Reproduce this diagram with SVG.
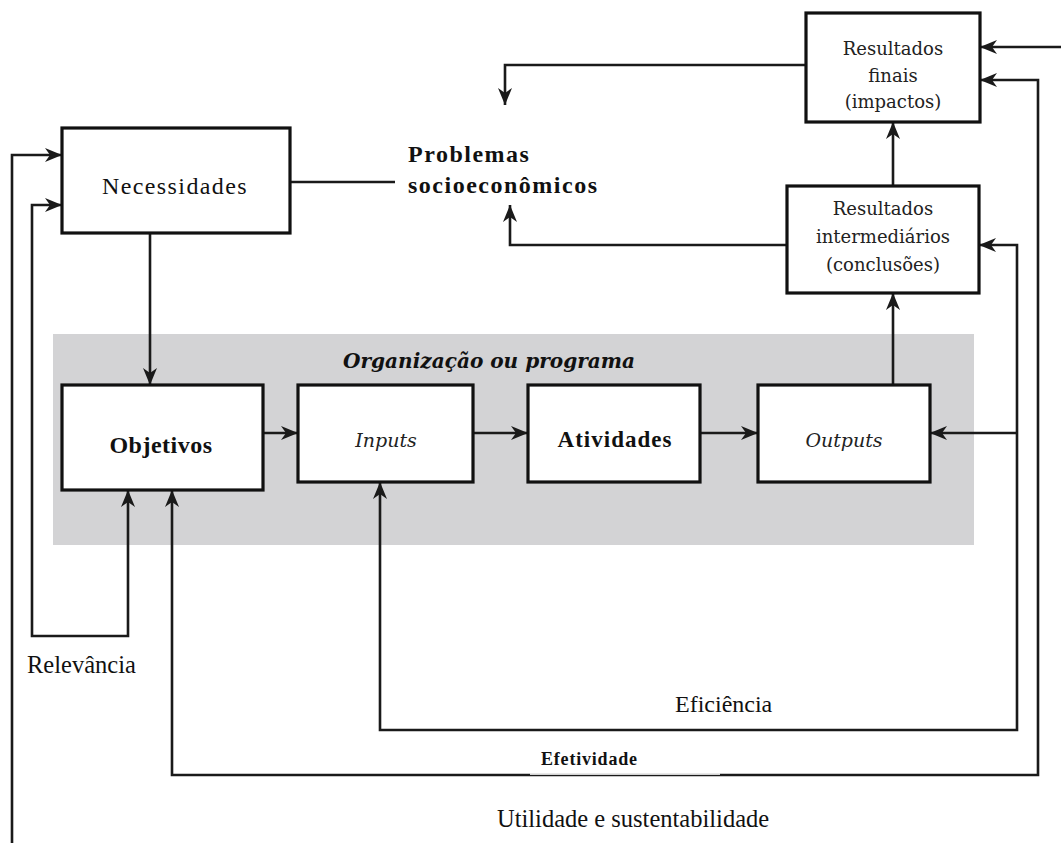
<svg xmlns="http://www.w3.org/2000/svg" width="1061" height="843" viewBox="0 0 1061 843">
<defs>
<marker id="ah" markerUnits="userSpaceOnUse" markerWidth="18" markerHeight="14" refX="17" refY="7" orient="auto-start-reverse">
<path d="M0,0 L17,7 L0,14 L5,7 Z" fill="#1a1a1a"/>
</marker>
<style>
.box{fill:#fff;stroke:#111;stroke-width:3.2}
.ln{fill:none;stroke:#1a1a1a;stroke-width:2.6}
.t{font-family:"Liberation Serif","DejaVu Serif",serif;fill:#111;text-anchor:middle}
.w{font-family:"DejaVu Serif","Liberation Serif",serif;fill:#222;text-anchor:middle}
.lb{font-family:"Liberation Serif","DejaVu Serif",serif;fill:#111}
</style>
</defs>
<rect width="1061" height="843" fill="#fff"/>
<rect id="org-bg" x="53" y="334" width="921" height="211" fill="#d3d3d5"/>
<text x="343" y="368" font-family="DejaVu Serif, Liberation Serif, serif" font-size="21" font-weight="bold" font-style="italic" fill="#111" textLength="292" lengthAdjust="spacingAndGlyphs">Organização ou programa</text>

<g id="connectors">
<path class="ln" d="M1061,47 L980,47" marker-end="url(#ah)"/>
<path class="ln" d="M980,80 L1038,80 L1038,775 L172,775 L172,490" marker-start="url(#ah)" marker-end="url(#ah)"/>
<path class="ln" d="M979,245 L1017,245 L1017,730 L380,730 L380,482" marker-start="url(#ah)" marker-end="url(#ah)"/>
<path class="ln" d="M1017,433 L930,433" marker-end="url(#ah)"/>
<path class="ln" d="M12,843 L12,155 L62,155" marker-end="url(#ah)"/>
<path class="ln" d="M62,205 L32,205 L32,636 L128,636 L128,490" marker-start="url(#ah)" marker-end="url(#ah)"/>
<path class="ln" d="M150,233 L150,385" marker-end="url(#ah)"/>
<path class="ln" d="M290,182 L395,182"/>
<path class="ln" d="M806,65 L505,65 L505,105" marker-end="url(#ah)"/>
<path class="ln" d="M787,245 L510,245 L510,205" marker-end="url(#ah)"/>
<path class="ln" d="M893,186 L893,122" marker-end="url(#ah)"/>
<path class="ln" d="M893,385 L893,293" marker-end="url(#ah)"/>
<path class="ln" d="M263,433 L298,433" marker-end="url(#ah)"/>
<path class="ln" d="M473,433 L528,433" marker-end="url(#ah)"/>
<path class="ln" d="M700,433 L758,433" marker-end="url(#ah)"/>
<rect x="530" y="773.4" width="190" height="1.4" fill="#fff"/>
</g>

<g id="necessidades">
<rect class="box" x="62" y="128" width="228" height="105"/>
<text class="t" x="175" y="194" font-size="24" letter-spacing="1.4">Necessidades</text>
</g>
<g id="problemas">
<text class="lb" x="408" y="162" font-size="24" font-weight="bold" letter-spacing="1.5">Problemas</text>
<text class="lb" x="408" y="193" font-size="24" font-weight="bold" letter-spacing="1.5">socioeconômicos</text>
</g>
<g id="resultados-finais">
<rect class="box" x="806" y="13" width="174" height="109"/>
<text class="w" x="893" y="55" font-size="18">Resultados</text>
<text class="w" x="893" y="82" font-size="18">finais</text>
<text class="w" x="893" y="108" font-size="18">(impactos)</text>
</g>
<g id="resultados-intermediarios">
<rect class="box" x="787" y="186" width="192" height="107"/>
<text class="w" x="883" y="215" font-size="18">Resultados</text>
<text class="w" x="883" y="243" font-size="18">intermediários</text>
<text class="w" x="883" y="271" font-size="18">(conclusões)</text>
</g>
<g id="objetivos">
<rect class="box" x="62" y="385" width="201" height="105"/>
<text class="t" x="161" y="453" font-size="24" font-weight="bold" letter-spacing="0.5">Objetivos</text>
</g>
<g id="inputs">
<rect class="box" x="298" y="385" width="175" height="97"/>
<text class="w" x="386" y="447" font-size="19" font-style="italic">Inputs</text>
</g>
<g id="atividades">
<rect class="box" x="528" y="385" width="172" height="97"/>
<text class="t" x="615" y="447" font-size="23" font-weight="bold" letter-spacing="1">Atividades</text>
</g>
<g id="outputs">
<rect class="box" x="758" y="385" width="172" height="97"/>
<text class="w" x="844" y="447" font-size="19" font-style="italic">Outputs</text>
</g>

<g id="labels">
<text class="lb" x="27" y="673" font-size="24.5">Relevância</text>
<text class="lb" x="675" y="712" font-size="24">Eficiência</text>
<text class="lb" x="541" y="765" font-size="18" font-weight="bold" letter-spacing="0.8">Efetividade</text>
<text class="lb" x="497" y="827" font-size="24.5">Utilidade e sustentabilidade</text>
</g>
</svg>
